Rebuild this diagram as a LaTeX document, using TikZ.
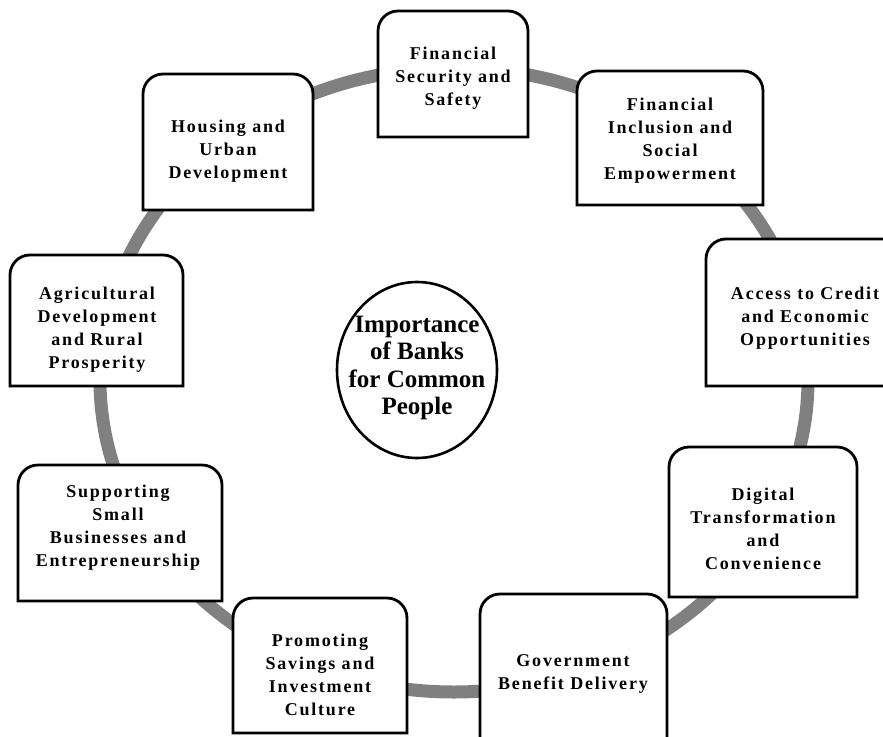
\documentclass[tikz,border=0pt]{standalone}
\usepackage{fontspec}
\setmainfont{Liberation Serif}
\newfontfamily\boxfont[LetterSpace=10]{Liberation Serif}
\newcommand{\rr}{20}
\tikzset{
  x=1pt, y=1pt,
  ringline/.style={draw=black!50, line width=13pt},
  boxline/.style={draw=black, line width=2.8pt, fill=white},
  boxtext/.style={align=center, inner sep=0pt, font=\boxfont\bfseries\fontsize{18}{23}\selectfont},
  hubline/.style={draw=black, line width=2.6pt, fill=white},
  hubtext/.style={align=center, inner sep=0pt, font=\bfseries\fontsize{25}{27.5}\selectfont}
}
\newcommand{\tbox}[4]{\draw[boxline] (#1,-#4) -- (#1,{-#2-\rr}) arc[start angle=180,end angle=90,radius=\rr] -- ({#3-\rr},-#2) arc[start angle=90,end angle=0,radius=\rr] -- (#3,-#4) -- cycle;}
\begin{document}
\begin{tikzpicture}
\useasboundingbox (0,0) rectangle (883,-736);
% ring
\draw[ringline] (454,-380) ellipse[x radius=354, y radius=312];
% boxes
\tbox{378}{11}{528}{137}
\node[boxtext] (t1) at (453,-78) {Financial\\Security and\\Safety};
\tbox{577}{71}{763}{205}
\node[boxtext] (t2) at (670,-141) {Financial\\Inclusion and\\Social\\Empowerment};
\tbox{706}{239}{904}{386}
\node[boxtext] (t3) at (805,-318) {Access to Credit\\and Economic\\Opportunities};
\tbox{669}{447}{857}{597}
\node[boxtext] (t4) at (763,-529) {Digital\\Transformation\\and\\Convenience};
\tbox{480}{594}{667}{760}
\node[boxtext] (t5) at (573,-674) {Government\\Benefit Delivery};
\tbox{233}{598}{407}{733}
\node[boxtext] (t6) at (320,-675) {Promoting\\Savings and\\Investment\\Culture};
\tbox{18}{465}{222}{601}
\node[boxtext] (t7) at (118,-528) {Supporting\\Small\\Businesses and\\Entrepreneurship};
\tbox{10}{255}{183}{386}
\node[boxtext] (t8) at (97,-330) {Agricultural\\Development\\and Rural\\Prosperity};
\tbox{143}{74}{313}{210}
\node[boxtext] (t9) at (228,-151) {Housing and\\Urban\\Development};
% hub
\draw[hubline] (417,-370) ellipse[x radius=80, y radius=88];
\node[hubtext] (hub) at (417,-368) {Importance\\of Banks\\for Common\\People};
\end{tikzpicture}
\end{document}
